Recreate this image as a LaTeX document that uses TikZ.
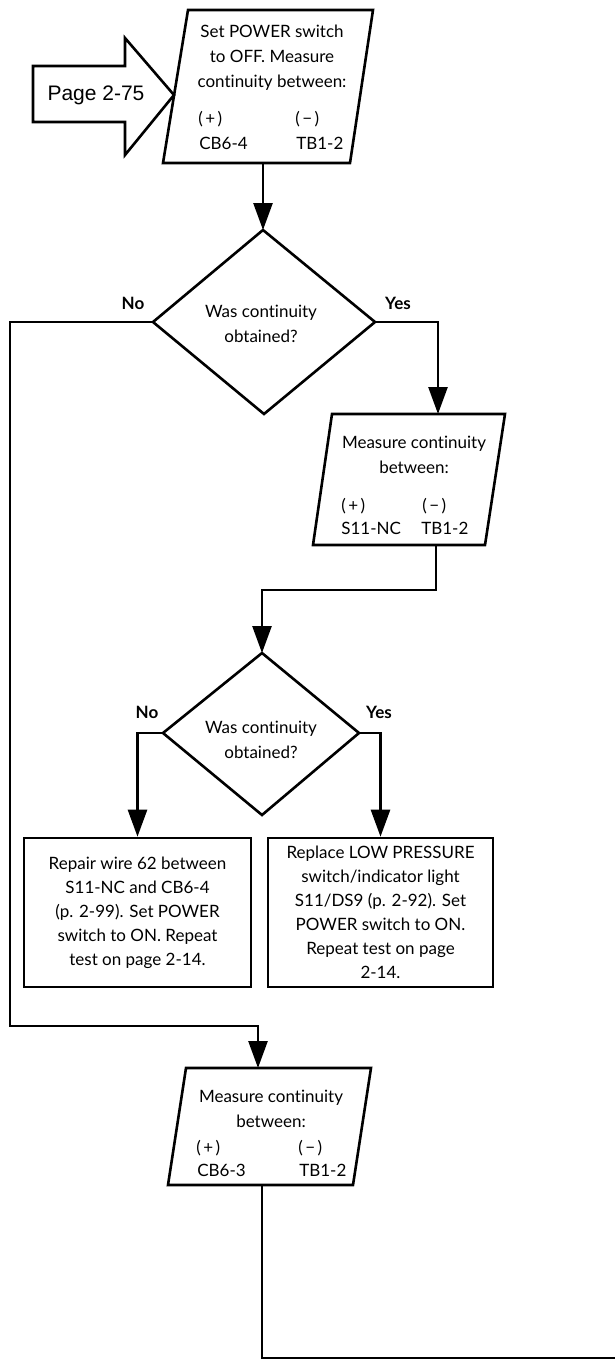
\documentclass[tikz,border=0pt]{standalone}
\usepackage{fontspec}
\setmainfont{Lato}[Ligatures={NoCommon}]
\newfontfamily\helv{Liberation Sans}
\usetikzlibrary{arrows.meta}
\newcommand{\plusterm}{(\kern2.5pt+\kern2.5pt)}
\newcommand{\minusterm}{(\kern2.5pt−\kern2.5pt)}
\begin{document}
\begin{tikzpicture}[x=1pt,y=-1pt, line width=2.6pt, line join=miter,
  txt/.style={font=\fontsize{17}{25}\selectfont, align=center, inner sep=0pt},
  boxtxt/.style={font=\fontsize{17}{24}\selectfont, align=center, inner sep=0pt},
  col/.style={font=\fontsize{17}{25}\selectfont, anchor=base west, inner sep=0pt},
  lbl/.style={font=\fontsize{17}{20}\selectfont\bfseries, inner sep=0pt},
  flow/.style={draw, -{Triangle[width=19pt,length=27pt]}},
  shp/.style={draw, line width=2.6pt},
  actbox/.style={shp, rectangle, inner sep=0pt, boxtxt}
  ]
\useasboundingbox (0,0) rectangle (615,1360);

% Entry arrow
\draw[shp] (33,66) -- (125,66) -- (125,38) -- (174,95) -- (125,155) -- (125,122) -- (33,122) -- cycle;
\node[inner sep=0pt, font=\helv\fontsize{21}{21}\selectfont] (pg) at (96,95) {Page 2-75};

% Parallelogram 1
\draw[shp] (188,10) -- (373,10) -- (350,163) -- (163,163) -- cycle;
\coordinate (p1s) at (263,163);
\node[txt] (p1txt) at (272,58) {Set POWER switch\\to OFF. Measure\\continuity between:};
\node[col] (p1a) at (197,124) {\plusterm};
\node[col] (p1b) at (294,124) {\minusterm};
\node[col] (p1c) at (198,149) {CB6-4};
\node[col] (p1d) at (295,149) {TB1-2};

% Diamond 1
\coordinate (d1t) at (263,230);
\coordinate (d1r) at (375,322);
\coordinate (d1b) at (264,414);
\coordinate (d1l) at (153,322);
\draw[shp] (d1t) -- (d1r) -- (d1b) -- (d1l) -- cycle;
\node[txt] (d1txt) at (261,324) {Was continuity\\obtained?};
\node[lbl] (no1) at (133,303) {No};
\node[lbl] (yes1) at (398,303) {Yes};

% Parallelogram 2
\draw[shp] (332,414) -- (505,414) -- (485,545) -- (313,545) -- cycle;
\coordinate (p2n) at (438,414);
\coordinate (p2s) at (436,545);
\node[txt] (p2txt) at (414,455) {Measure continuity\\between:};
\node[col] (p2a) at (340,511) {\plusterm};
\node[col] (p2b) at (421,511) {\minusterm};
\node[col] (p2c) at (340,534) {S11-NC};
\node[col] (p2d) at (420,534) {TB1-2};

% Diamond 2
\coordinate (d2t) at (262,653);
\coordinate (d2r) at (359,733);
\coordinate (d2b) at (262,815);
\coordinate (d2l) at (163,733);
\draw[shp] (d2t) -- (d2r) -- (d2b) -- (d2l) -- cycle;
\node[txt] (d2txt) at (261,740) {Was continuity\\obtained?};
\node[lbl] (no2) at (147,712) {No};
\node[lbl] (yes2) at (379,712) {Yes};

% Action boxes
\node[actbox, minimum width=227pt, minimum height=149pt] (bl) at (137.5,912.5)
  {Repair wire 62 between\\S11-NC and CB6-4\\(p. 2-99). Set POWER\\switch to ON. Repeat\\test on page 2-14.};
\node[actbox, minimum width=225pt, minimum height=149pt] (br) at (380.5,912.5)
  {Replace LOW PRESSURE\\switch/indicator light\\S11/DS9 (p. 2-92). Set\\POWER switch to ON.\\Repeat test on page\\2-14.};

% Parallelogram 3
\draw[shp] (186,1068) -- (371,1068) -- (353,1185) -- (168,1185) -- cycle;
\coordinate (p3n) at (258,1068);
\coordinate (p3s) at (262,1185);
\node[txt] (p3txt) at (271,1109) {Measure continuity\\between:};
\node[col] (p3a) at (195,1153) {\plusterm};
\node[col] (p3b) at (297,1153) {\minusterm};
\node[col] (p3c) at (196,1176) {CB6-3};
\node[col] (p3d) at (298,1176) {TB1-2};
\coordinate (out) at (615,1358);

% Connectors
\draw[flow] (p1s) -- (d1t);
\draw[flow] (d1r) -| (p2n);
\draw[flow] (d1l) -- (10,322) -- (10,1026) -| (p3n);
\draw[flow] (p2s) -- (436,590) -| (d2t);
\draw[flow] (d2l) -| (bl.north);
\draw[flow] (d2r) -| (br.north);
\draw (p3s) |- (out);
\end{tikzpicture}
\end{document}
